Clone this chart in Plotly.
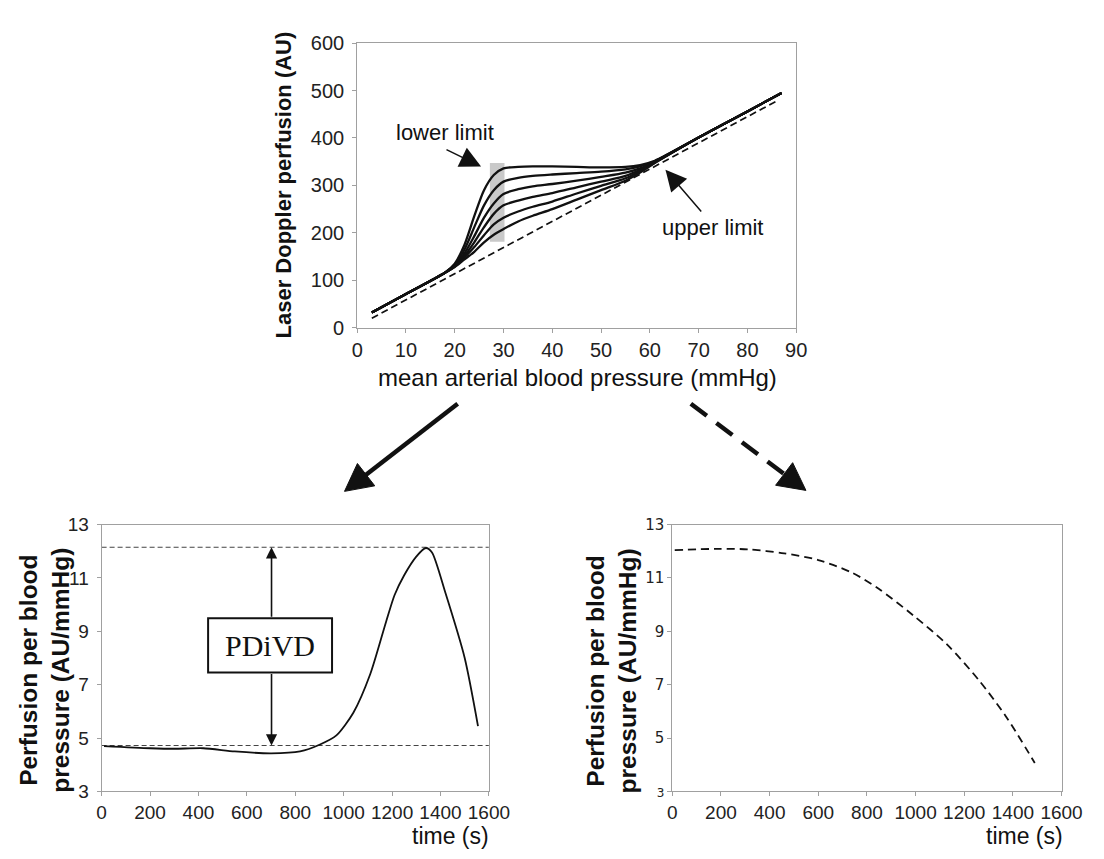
import plotly.graph_objects as go

W, H = 1104, 859

# ---------------- data ----------------
# Top panel: perfusion vs mean arterial blood pressure
pressure = [3, 10, 18, 20, 22, 24, 26, 28, 30, 33, 36, 40, 45, 50, 55, 58, 61, 70, 80, 87]
perf_1 = [32, 71, 116, 135, 175, 235, 290, 322, 336, 339, 340, 340, 339, 338, 339, 343, 352, 401, 456, 495]
perf_2 = [32, 71, 116, 133, 165, 212, 258, 290, 308, 316, 320, 323, 326, 329, 334, 340, 351, 401, 456, 495]
perf_3 = [32, 71, 116, 131, 157, 193, 232, 262, 282, 292, 298, 303, 310, 318, 327, 336, 350, 401, 456, 495]
perf_4 = [32, 71, 116, 130, 152, 180, 212, 240, 258, 268, 276, 284, 296, 308, 320, 333, 349, 401, 456, 495]
perf_5 = [32, 71, 116, 129, 148, 170, 195, 218, 232, 245, 255, 266, 283, 299, 315, 330, 348, 401, 456, 495]
perf_6 = [32, 71, 116, 128, 144, 160, 180, 196, 208, 224, 236, 250, 270, 290, 310, 327, 347, 401, 456, 495]
passive_x = [3, 86]
passive_y = [20, 478]
band_x = [27.2, 30.2]
band_y = [181, 347]

# Bottom-left: perfusion per blood pressure over time (solid)
time_left = [10, 200, 300, 420, 550, 700, 820, 900, 970, 1040, 1110, 1175, 1210, 1250, 1300, 1340, 1365, 1420, 1500, 1555]
ppbp_left = [4.70, 4.62, 4.60, 4.62, 4.50, 4.43, 4.50, 4.75, 5.10, 5.95, 7.40, 9.35, 10.35, 11.10, 11.80, 12.12, 11.95, 10.45, 8.00, 5.45]
baseline_level = 4.72
peak_level = 12.15
pdivd_time = 702
pdivd_box_t = [440, 952]
pdivd_box_v = [7.46, 9.49]

# Bottom-right: perfusion per blood pressure over time (dashed)
time_right = [10, 190, 310, 460, 600, 740, 850, 990, 1130, 1260, 1370, 1490]
ppbp_right = [12.04, 12.09, 12.07, 11.92, 11.67, 11.19, 10.58, 9.60, 8.50, 7.17, 5.83, 4.07]

x_ticks_top = [0, 10, 20, 30, 40, 50, 60, 70, 80, 90]
y_ticks_top = [0, 100, 200, 300, 400, 500, 600]
x_ticks_bot = [0, 200, 400, 600, 800, 1000, 1200, 1400, 1600]
y_ticks_bot = [3, 5, 7, 9, 11, 13]
y_ticktext_right = ["<span style='font-size:12px'>3</span>", "5", "7", "9", "11", "13"]


def px(x):
    return x / W


def py(y):
    return 1 - y / H


SANS = "Liberation Sans, Arial, sans-serif"
AXC = "#a0a0a0"

fig = go.Figure()

for vals in [perf_1, perf_2, perf_3, perf_4, perf_5, perf_6]:
    fig.add_trace(go.Scatter(x=pressure, y=vals, mode="lines", xaxis="x", yaxis="y",
                             line=dict(color="#111", width=2.3, shape="spline", smoothing=0.8),
                             showlegend=False, hoverinfo="skip"))
fig.add_trace(go.Scatter(x=passive_x, y=passive_y, mode="lines", xaxis="x", yaxis="y",
                         line=dict(color="#111", width=1.7, dash="7px,4px"),
                         showlegend=False, hoverinfo="skip"))

fig.add_trace(go.Scatter(x=[0, 1600], y=[peak_level, peak_level], mode="lines", xaxis="x2", yaxis="y2",
                         line=dict(color="#444", width=1.1, dash="5px,3px"), showlegend=False, hoverinfo="skip"))
fig.add_trace(go.Scatter(x=[0, 1600], y=[baseline_level, baseline_level], mode="lines", xaxis="x2", yaxis="y2",
                         line=dict(color="#444", width=1.1, dash="5px,3px"), showlegend=False, hoverinfo="skip"))
fig.add_trace(go.Scatter(x=time_left, y=ppbp_left, mode="lines", xaxis="x2", yaxis="y2",
                         line=dict(color="#111", width=1.8, shape="spline", smoothing=0.7),
                         showlegend=False, hoverinfo="skip"))

fig.add_trace(go.Scatter(x=time_right, y=ppbp_right, mode="lines", xaxis="x3", yaxis="y3",
                         line=dict(color="#111", width=1.8, dash="8px,5px", shape="spline", smoothing=0.8),
                         showlegend=False, hoverinfo="skip"))


def axis_style(size=19, **kw):
    d = dict(showline=True, linecolor=AXC, linewidth=1, mirror=True, ticks="outside",
             ticklen=4, tickcolor=AXC, showgrid=False, zeroline=False,
             tickfont=dict(family=SANS, size=size, color="#222"), fixedrange=True)
    d.update(kw)
    return d


fig.update_layout(
    width=W, height=H, margin=dict(l=0, r=0, t=0, b=0),
    paper_bgcolor="white", plot_bgcolor="white",
    xaxis=axis_style(20, domain=[px(360), px(810)], range=[0, 90], tickvals=x_ticks_top, anchor="y"),
    yaxis=axis_style(20, domain=[py(325), py(33)], range=[0, 600], tickvals=y_ticks_top, anchor="x",
                     ticklabelstandoff=4),
    xaxis2=axis_style(19, domain=[px(98), px(495)], range=[0, 1600], tickvals=x_ticks_bot, anchor="y2"),
    yaxis2=axis_style(19, domain=[py(801), py(527)], range=[3, 13], tickvals=y_ticks_bot, anchor="x2",
                      ticklabelstandoff=4),
    xaxis3=axis_style(19, domain=[px(683), px(1082)], range=[0, 1600], tickvals=x_ticks_bot, anchor="y3"),
    yaxis3=axis_style(15, domain=[py(801), py(527)], range=[3, 13], tickvals=y_ticks_bot,
                      ticktext=y_ticktext_right, anchor="x3",
                      tickfont=dict(family="DejaVu Sans, Verdana, sans-serif", size=15, color="#222")),
)

shapes = []
# lower-limit grey band
shapes.append(dict(type="rect", xref="x", yref="y", x0=band_x[0], x1=band_x[1], y0=band_y[0], y1=band_y[1],
                   fillcolor="#c9c9c9", line=dict(width=0), layer="below"))
# PDiVD box
shapes.append(dict(type="rect", xref="x2", yref="y2", x0=pdivd_box_t[0], x1=pdivd_box_t[1],
                   y0=pdivd_box_v[0], y1=pdivd_box_v[1], fillcolor="white", line=dict(color="#111", width=2)))


def big_arrow(tail, tip, dashed):
    (tx, ty), (hx, hy) = tail, tip
    dx, dy = hx - tx, hy - ty
    L = (dx * dx + dy * dy) ** 0.5
    ux, uy = dx / L, dy / L
    hl, hw = 28, 29
    bx, by = hx - hl * ux, hy - hl * uy
    nx, ny = -uy, ux
    c1 = (bx + hw / 2 * nx, by + hw / 2 * ny)
    c2 = (bx - hw / 2 * nx, by - hw / 2 * ny)
    out = [dict(type="line", xref="paper", yref="paper", x0=px(tx), y0=py(ty),
                x1=px(bx + 3 * ux), y1=py(by + 3 * uy),
                line=dict(color="#111", width=4.5, dash="20px,12px" if dashed else "solid"))]
    path = "M{:.5f},{:.5f} L{:.5f},{:.5f} L{:.5f},{:.5f} Z".format(
        px(hx), py(hy), px(c1[0]), py(c1[1]), px(c2[0]), py(c2[1]))
    out.append(dict(type="path", xref="paper", yref="paper", path=path,
                    fillcolor="#111", line=dict(color="#111", width=1)))
    return out


shapes += big_arrow((463, 403), (347, 493), False)
shapes += big_arrow((702, 403), (820, 492), True)
fig.update_layout(shapes=shapes)

ann = []


def label(text, x, y, size, bold=False, angle=0, xanchor="center", family=SANS):
    t = "<b>%s</b>" % text if bold else text
    return dict(text=t, xref="paper", yref="paper", x=px(x), y=py(y), textangle=angle,
                xanchor=xanchor, yanchor="middle", showarrow=False,
                font=dict(family=family, size=size, color="#111"))


# axis titles
ann.append(label("Laser Doppler perfusion (AU)", 284, 179, 22, bold=True, angle=-90))
ann.append(label("mean arterial blood pressure (mmHg)", 586, 376, 24))
for cx in (40, 621):
    ann.append(label("Perfusion per blood<br>pressure (AU/mmHg)", cx, 677, 24.5, bold=True, angle=-90))
ann.append(label("time (s)", 497, 847, 23, xanchor="right"))
ann.append(label("time (s)", 1086, 847, 23, xanchor="right"))

# top panel labels and arrows
ann.append(dict(text="lower limit", xref="x", yref="y", x=18, y=411, showarrow=False,
                xanchor="center", yanchor="middle", font=dict(family=SANS, size=22, color="#111")))
ann.append(dict(text="", xref="x", yref="y", axref="x", ayref="y", x=25.4, y=340, ax=18, ay=377,
                showarrow=True, arrowhead=2, arrowsize=2.8, arrowwidth=1.5, arrowcolor="#111"))
ann.append(dict(text="upper limit", xref="x", yref="y", x=72.8, y=211, showarrow=False,
                xanchor="center", yanchor="middle", font=dict(family=SANS, size=22, color="#111")))
ann.append(dict(text="", xref="x", yref="y", axref="x", ayref="y", x=63.2, y=333, ax=70.8, ay=242,
                showarrow=True, arrowhead=2, arrowsize=2.8, arrowwidth=1.5, arrowcolor="#111"))

# PDiVD double arrow
ann.append(dict(text="", xref="x2", yref="y2", axref="x2", ayref="y2", x=pdivd_time, y=peak_level,
                ax=pdivd_time, ay=pdivd_box_v[1], showarrow=True, arrowhead=2, arrowsize=1.4,
                arrowwidth=1.6, arrowcolor="#111"))
ann.append(dict(text="", xref="x2", yref="y2", axref="x2", ayref="y2", x=pdivd_time, y=baseline_level,
                ax=pdivd_time, ay=pdivd_box_v[0], showarrow=True, arrowhead=2, arrowsize=1.4,
                arrowwidth=1.6, arrowcolor="#111"))
ann.append(dict(text="PDiVD", xref="x2", yref="y2", x=sum(pdivd_box_t) / 2, y=sum(pdivd_box_v) / 2,
                showarrow=False, xanchor="center", yanchor="middle",
                font=dict(family="Liberation Serif, Times New Roman, serif", size=30, color="#111")))

fig.update_layout(annotations=ann)

fig.write_html("out.html", config={"displayModeBar": False},
               post_script="document.body.style.margin='0';document.body.style.overflow='hidden';")
